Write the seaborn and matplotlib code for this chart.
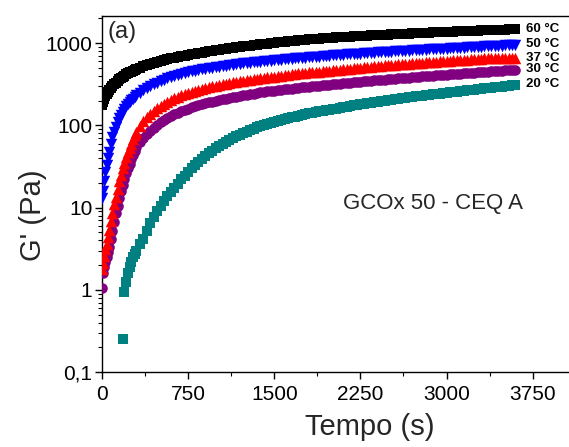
import numpy as np
import pandas as pd
import matplotlib
matplotlib.use("Agg")
import matplotlib.pyplot as plt
import seaborn as sns
from matplotlib.ticker import FixedLocator, FixedFormatter, LogLocator, NullFormatter, MultipleLocator

nan = np.nan

# ---- data ----
time_s = [0, 10, 20, 30, 40, 50, 60, 75, 90, 105, 120, 135, 150, 165, 180, 195, 210, 225, 240, 255, 270, 285, 300,
          330, 360, 390, 420, 450, 480, 510, 540, 570, 600,
          630, 660, 690, 720, 750, 780, 810, 840, 870, 900,
          930, 960, 990, 1020, 1050, 1080, 1110, 1140, 1170, 1200,
          1230, 1260, 1290, 1320, 1350, 1380, 1410, 1440, 1470, 1500,
          1530, 1560, 1590, 1620, 1650, 1680, 1710, 1740, 1770, 1800,
          1830, 1860, 1890, 1920, 1950, 1980, 2010, 2040, 2070, 2100,
          2130, 2160, 2190, 2220, 2250, 2280, 2310, 2340, 2370, 2400,
          2430, 2460, 2490, 2520, 2550, 2580, 2610, 2640, 2670, 2700,
          2730, 2760, 2790, 2820, 2850, 2880, 2910, 2940, 2970, 3000,
          3030, 3060, 3090, 3120, 3150, 3180, 3210, 3240, 3270, 3300,
          3330, 3360, 3390, 3420, 3450, 3480, 3510, 3540, 3570, 3600]

g_60 = [175, 195, 212, 227, 241, 254, 266, 283, 299, 315, 331, 347, 362, 376, 390, 403, 416, 428, 440, 452, 463, 474, 484,
        504, 523, 541, 558, 574, 590, 606, 622, 637, 652,
        666, 680, 694, 707, 720, 732, 744, 755, 767, 779,
        792, 805, 818, 831, 844, 856, 868, 880, 892, 903,
        914, 925, 936, 947, 958, 968, 979, 989, 1000, 1010,
        1020, 1030, 1040, 1050, 1060, 1070, 1080, 1089, 1100, 1111,
        1119, 1127, 1135, 1143, 1150, 1158, 1166, 1173, 1180, 1187,
        1194, 1201, 1208, 1215, 1222, 1228, 1235, 1241, 1248, 1254,
        1261, 1267, 1274, 1280, 1286, 1292, 1298, 1304, 1310, 1316,
        1322, 1327, 1333, 1338, 1344, 1349, 1355, 1360, 1366, 1371,
        1377, 1382, 1388, 1393, 1399, 1404, 1410, 1415, 1421, 1426,
        1432, 1437, 1443, 1448, 1454, 1459, 1465, 1470, 1476, 1481]

g_50 = [13, 16, 21, 27, 33, 40, 48, 60, 72, 84, 96, 109, 122, 135, 147, 159, 170, 181, 191, 201, 212, 222, 231,
        249, 266, 283, 300, 316, 331, 346, 360, 374, 387,
        399, 411, 422, 433, 443, 453, 462, 471, 480, 488,
        496, 504, 512, 519, 526, 533, 540, 547, 554, 560,
        567, 573, 579, 585, 591, 597, 603, 609, 615, 620,
        626, 631, 637, 642, 647, 652, 657, 662, 668, 673,
        678, 683, 688, 693, 698, 703, 708, 713, 718, 723,
        728, 733, 738, 743, 748, 752, 757, 762, 767, 771,
        776, 780, 785, 789, 794, 798, 803, 807, 812, 816,
        821, 825, 830, 834, 839, 843, 848, 852, 857, 861,
        866, 870, 875, 879, 884, 888, 893, 897, 902, 906,
        911, 915, 920, 924, 929, 933, 938, 942, 946, 950]

g_37 = [1.8, 2.1, 2.6, 3.1, 3.6, 4.4, 5.3, 6.8, 8.6, 11, 13.5, 17, 21, 25, 30, 35, 41, 47, 53, 60, 68, 76, 84,
        98, 112, 125, 138, 150, 162, 173, 184, 194, 204,
        213, 222, 231, 240, 248, 256, 264, 271, 278, 285,
        292, 298, 304, 310, 316, 322, 328, 333, 338, 343,
        348, 353, 358, 363, 368, 373, 378, 383, 388, 393,
        398, 403, 408, 413, 418, 423, 428, 432, 436, 440,
        444, 448, 452, 456, 460, 464, 468, 472, 476, 480,
        485, 490, 494, 499, 503, 508, 512, 517, 521, 526,
        530, 535, 539, 544, 548, 553, 557, 561, 565, 569,
        573, 577, 581, 585, 589, 593, 597, 601, 605, 609,
        613, 617, 621, 625, 629, 632, 636, 640, 644, 648,
        651, 653, 655, 657, 659, 661, 663, 665, 667, 669]

g_30 = [1.05, 1.6, 1.9, 2.2, 2.5, 2.9, 3.3, 4.1, 5.2, 6.6, 8.5, 10.5, 13, 16, 19, 22, 26, 30, 34, 39, 44, 49, 54,
        62, 70, 78, 86, 94, 102, 109, 116, 123, 130,
        136, 142, 148, 154, 160, 165, 170, 175, 180, 185,
        190, 195, 200, 204, 208, 212, 216, 220, 224, 228,
        232, 236, 240, 244, 248, 252, 256, 259, 262, 265,
        268, 271, 274, 277, 280, 283, 286, 289, 292, 295,
        298, 301, 304, 307, 310, 313, 316, 319, 322, 325,
        328, 331, 334, 337, 340, 343, 346, 349, 352, 355,
        358, 361, 364, 367, 370, 373, 376, 379, 382, 385,
        388, 391, 394, 397, 400, 403, 406, 409, 412, 415,
        418, 421, 424, 427, 430, 433, 436, 439, 442, 445,
        448, 451, 454, 457, 460, 463, 466, 469, 472, 475]

g_20 = [nan, nan, nan, nan, nan, nan, nan, nan, nan, nan, nan, nan, nan, nan, 0.25, 0.95, 1.25, 1.6, 1.9, 2.2, 2.5, 2.75, 3.0,
        3.6, 4.2, 5.2, 6.5, 7.7, 9.0, 10.5, 12, 13.7, 15.5,
        17.5, 19.5, 22, 24.5, 27, 30, 33, 36, 39, 42,
        45.5, 49, 52.5, 56, 59.5, 63, 66.5, 70, 73.5, 77,
        80.5, 84, 87.5, 91, 94.5, 98, 101, 104, 107, 110,
        113, 116, 119, 122, 125, 128, 131, 134, 137, 140,
        142.5, 145, 147.5, 150, 152.5, 155, 157.5, 160, 163, 166,
        169, 172, 175, 178, 180.5, 183, 186, 189, 191.5, 194,
        197, 200, 202.5, 205, 208, 211, 213.5, 216, 219, 222,
        224.5, 227, 230, 233, 235.5, 238, 241, 244, 246.5, 249,
        252, 255, 258, 261, 264, 267, 270, 273, 276, 279,
        282, 285, 288, 291, 294, 297, 300, 303, 306, 309]

series_labels = ["20 °C", "30 °C", "37 °C", "50 °C", "60 °C"]
series_values = [g_20, g_30, g_37, g_50, g_60]
series_colors = ["#008080", "#800080", "#FF0000", "#0000FF", "#000000"]
series_markers = ["s", "o", "^", "v", "s"]
series_sizes = [52, 58, 68, 68, 52]

label_texts = ["60 °C", "50 °C", "37 °C", "30 °C", "20 °C"]
label_y = [1480, 980, 660, 486, 319]
label_x = 3690

y_ticks = [0.1, 1, 10, 100, 1000]
y_ticklabels = ["0,1", "1", "10", "100", "1000"]
x_ticks = [0, 750, 1500, 2250, 3000, 3750]

# ---- plot ----
sns.set_theme(style="ticks")
plt.rcParams['font.family'] = ['Liberation Sans', 'DejaVu Sans']

fig = plt.figure(figsize=(5.69, 4.47), dpi=100)
ax = fig.add_axes([102 / 569, 75 / 447, 467 / 569, 356 / 447])

for lab, vals, col, mk, sz in zip(series_labels, series_values, series_colors, series_markers, series_sizes):
    df = pd.DataFrame({"t": time_s, "G": vals}).dropna()
    sns.scatterplot(data=df, x="t", y="G", color=col, marker=mk, s=sz, linewidth=0,
                    ax=ax, legend=False, zorder=3)

ax.set_yscale("log")
ax.set_ylim(0.1, 2140)
ax.set_xlim(0, 4066)

ax.yaxis.set_major_locator(FixedLocator(y_ticks))
ax.yaxis.set_major_formatter(FixedFormatter(y_ticklabels))
ax.yaxis.set_minor_locator(LogLocator(base=10, subs=[2, 3, 4, 5, 6, 7, 8, 9], numticks=20))
ax.yaxis.set_minor_formatter(NullFormatter())
ax.xaxis.set_major_locator(FixedLocator(x_ticks))
ax.xaxis.set_minor_locator(MultipleLocator(375))

ax.spines["right"].set_visible(False)
for s in ["left", "bottom", "top"]:
    ax.spines[s].set_linewidth(1.0)
    ax.spines[s].set_color("black")

ax.tick_params(which="major", direction="out", length=5, width=1, labelsize=15, pad=2, colors="black")
ax.tick_params(which="minor", direction="out", length=3, width=0.8, colors="black")
ax.tick_params(axis="x", which="major", pad=4)

ax.set_xlabel("Tempo (s)", fontsize=21)
ax.set_ylabel("G' (Pa)", fontsize=21)
ax.xaxis.set_label_coords(0.574, -0.115)
ax.yaxis.set_label_coords(-0.118, 0.44)

for txt, yv in zip(label_texts, label_y):
    ax.text(label_x, yv, txt, fontsize=9.5, fontweight="bold", ha="left", va="center", color="black")

ax.text(0.011, 0.985, "(a)", transform=ax.transAxes, fontsize=17, ha="left", va="top")
ax.text(0.709, 0.472, "GCOx 50 - CEQ A", transform=ax.transAxes, fontsize=16, ha="center", va="center")

fig.savefig("out.png", dpi=100)
